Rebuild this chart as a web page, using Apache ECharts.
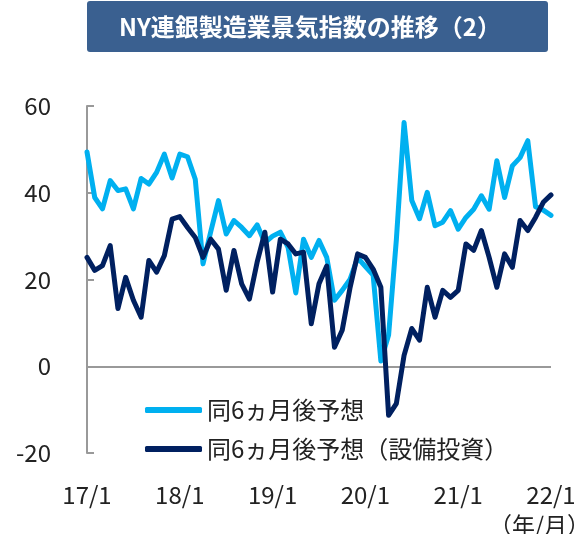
<!DOCTYPE html>
<html>
<head>
<meta charset="utf-8">
<script src="https://cdn.jsdelivr.net/npm/echarts@6/dist/echarts.min.js"></script>
<style>
html,body{margin:0;padding:0;background:#fff;}
#c{width:588px;height:534px;}
</style>
</head>
<body>
<div id="c"></div>
<script>
const categories = [
'17/1','17/2','17/3','17/4','17/5','17/6','17/7','17/8','17/9','17/10','17/11','17/12',
'18/1','18/2','18/3','18/4','18/5','18/6','18/7','18/8','18/9','18/10','18/11','18/12',
'19/1','19/2','19/3','19/4','19/5','19/6','19/7','19/8','19/9','19/10','19/11','19/12',
'20/1','20/2','20/3','20/4','20/5','20/6','20/7','20/8','20/9','20/10','20/11','20/12',
'21/1','21/2','21/3','21/4','21/5','21/6','21/7','21/8','21/9','21/10','21/11','21/12',
'22/1'];
const future6m = [
49.4,38.9,36.3,42.8,40.5,40.9,36.3,43.3,42.0,44.7,48.9,43.4,
48.9,48.3,43.1,23.6,31.0,38.2,30.5,33.6,32.0,30.1,32.6,28.5,
30.0,30.9,27.4,16.9,29.3,25.1,29.0,25.1,15.2,17.5,20.0,25.0,
23.0,21.0,1.2,7.2,29.1,56.2,38.2,34.0,40.1,32.4,33.2,35.9,
31.6,34.3,36.2,39.3,36.2,47.4,38.9,46.2,48.1,52.0,36.8,36.0,
34.8];
const future6mCapex = [
25.1,22.1,23.2,27.8,13.3,20.5,15.2,11.3,24.4,21.7,25.5,33.9,
34.5,32.0,29.7,25.1,29.3,27.0,17.5,26.7,19.0,15.5,24.0,30.9,
17.1,29.3,28.2,25.9,26.3,9.8,19.0,23.1,4.4,8.3,18.0,25.9,
25.1,22.4,18.2,-11.3,-8.6,2.5,8.7,6.0,18.2,11.3,17.5,15.9,
17.5,28.2,26.7,31.3,25.1,18.2,25.9,22.8,33.6,31.3,34.3,37.8,
39.5];
const seriesNames = ['同6ヵ月後予想','同6ヵ月後予想（設備投資）'];
const yTicks = {min:-20, max:60, interval:20};
const titleText = 'NY連銀製造業景気指数の推移（2）';
const unitText = '（年/月）';

const FONT = '"Noto Sans CJK JP","Noto Sans",sans-serif';
const chart = echarts.init(document.getElementById('c'), null, {renderer:'canvas'});
chart.setOption({
  animation:false,
  backgroundColor:'#fff',
  grid:{left:87, right:37, top:106, bottom:81, containLabel:false},
  graphic:[
    {type:'rect', left:87, top:1, shape:{width:461, height:51, r:3},
     style:{fill:'#3A6090'}},
    {type:'text', x:310, y:27,
     style:{text:titleText, fill:'#fff', font:'bold 24px '+FONT, align:'center', verticalAlign:'middle'}},
    {type:'text', right:-2, top:514,
     style:{text:unitText, fill:'#222', font:'23px '+FONT}}
  ],
  legend:{
    orient:'vertical', left:140, top:391, itemGap:11,
    itemWidth:57, itemHeight:6, icon:'roundRect',
    textStyle:{fontSize:24, lineHeight:28, color:'#222', fontFamily:FONT},
    data:seriesNames
  },
  xAxis:{
    type:'category', data:categories, boundaryGap:false,
    axisLine:{show:false}, axisTick:{show:false}, splitLine:{show:false},
    axisLabel:{interval:function(i){return i%12===0;}, fontSize:24, lineHeight:30, color:'#222',
      fontFamily:FONT, margin:27, showMaxLabel:true}
  },
  yAxis:{
    type:'value', min:yTicks.min, max:yTicks.max, interval:yTicks.interval,
    axisLine:{show:true, lineStyle:{color:'#999', width:2}},
    axisTick:{show:true, inside:true, length:7, lineStyle:{color:'#999', width:2}},
    splitLine:{show:false},
    axisLabel:{fontSize:24, color:'#222', fontFamily:FONT, margin:36, align:'right'}
  },
  series:[
    {name:seriesNames[0], type:'line', data:future6m, showSymbol:false, symbol:'none',
     lineStyle:{color:'#00B0F0', width:5, cap:'round', join:'round'}, itemStyle:{color:'#00B0F0'},
     markLine:{silent:true, symbol:'none', label:{show:false},
       lineStyle:{color:'#999', width:2, type:'solid'}, data:[{yAxis:0}], z:1}},
    {name:seriesNames[1], type:'line', data:future6mCapex, showSymbol:false, symbol:'none',
     lineStyle:{color:'#002060', width:5, cap:'round', join:'round'}, itemStyle:{color:'#002060'}}
  ]
});
</script>
</body>
</html>
